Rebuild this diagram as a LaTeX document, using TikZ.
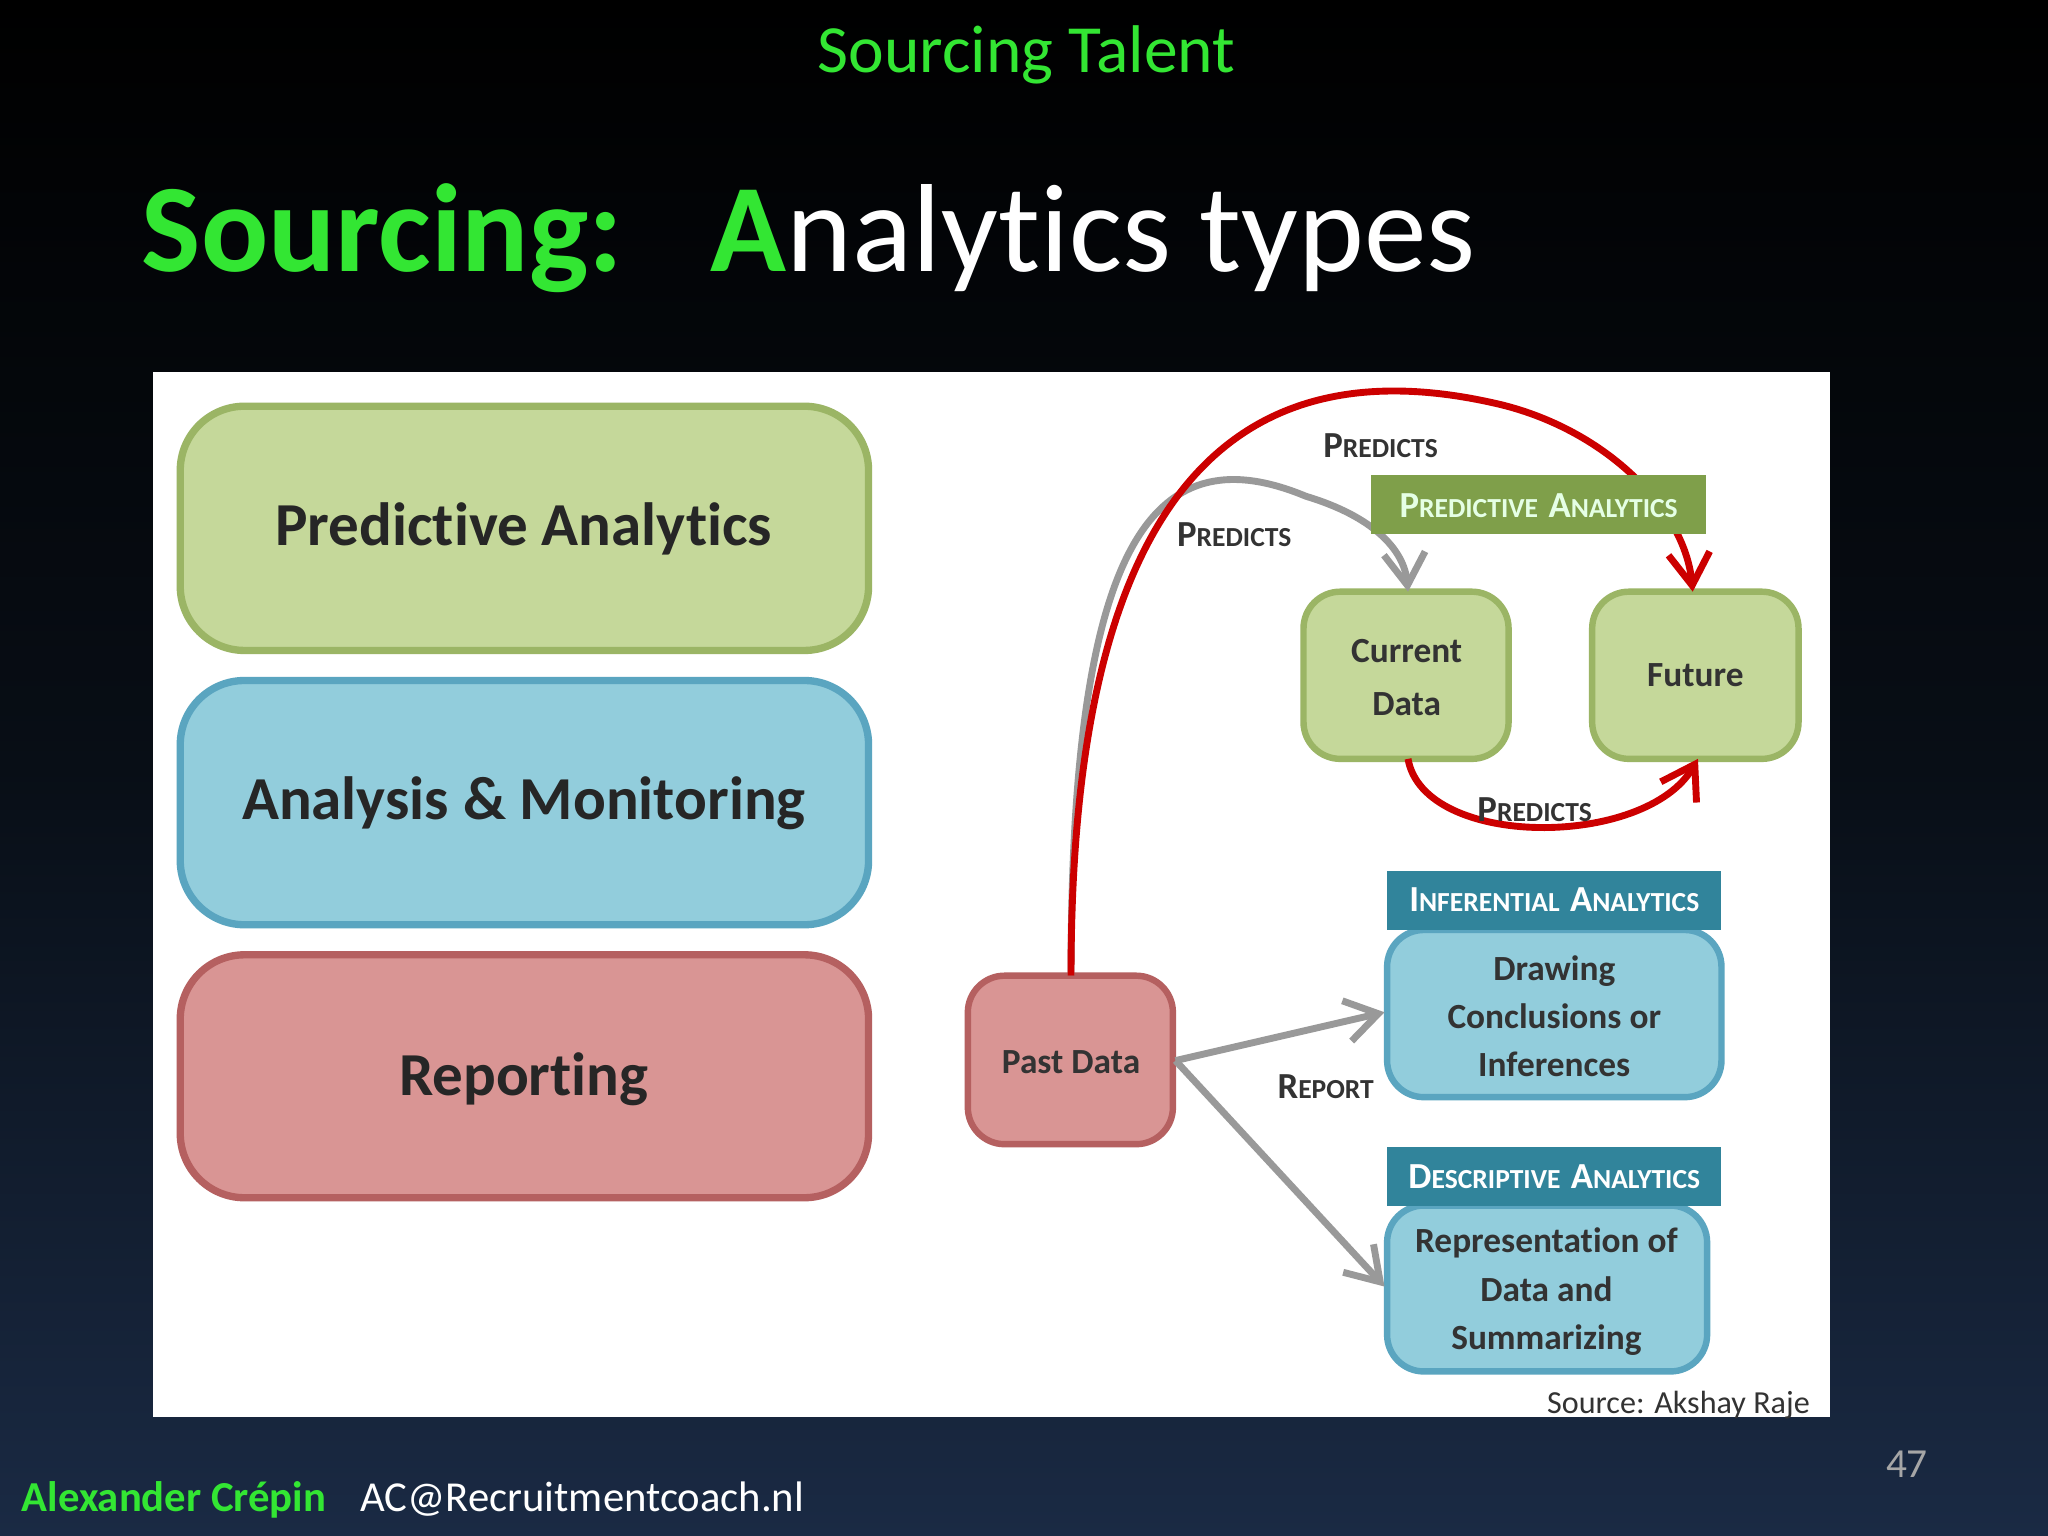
\documentclass[tikz,border=0pt]{standalone}
\usepackage{fontspec}
\setmainfont{Carlito}[Ligatures=NoCommon]
\usetikzlibrary{arrows.meta}
\definecolor{tgreen}{HTML}{33E633}
\definecolor{gfill}{HTML}{C5D89A}\definecolor{gdraw}{HTML}{9BB565}
\definecolor{bfill}{HTML}{92CDDC}\definecolor{bdraw}{HTML}{5AA5C0}
\definecolor{rfill}{HTML}{D99594}\definecolor{rdraw}{HTML}{B56060}
\definecolor{glab}{HTML}{7F9F4A}\definecolor{blab}{HTML}{31849B}
\definecolor{bgbot}{RGB}{26,42,68}\definecolor{bgmid}{RGB}{8,14,22}
\newcommand{\smc}[2]{{\fontsize{8}{9}\selectfont #1}{\fontsize{6}{7}\selectfont #2}}
\tikzset{
 bigbox/.style={draw, line width=1.6pt, rounded corners=14, inner sep=0pt},
 smbox/.style={draw, line width=1.4pt, rounded corners=8, inner sep=0pt},
 gbox/.style={fill=gfill, draw=gdraw},
 bbox/.style={fill=bfill, draw=bdraw},
 rbox/.style={fill=rfill, draw=rdraw},
 lbl/.style={font=\fontsize{7.7}{8.5}\selectfont\bfseries, text=black!80},
 darr/.style={-{Straight Barb[length=7pt,width=9pt]}, line width=1.5pt},
 bigtxt/.style={font=\fontsize{13.3}{15}\selectfont\bfseries, text=black!85},
}
\begin{document}
\begin{tikzpicture}[x=0.1mm,y=-0.1mm]
\shade[top color=black, bottom color=bgbot, middle color=bgmid] (0,0) rectangle (1568,1176);
\useasboundingbox (0,0) rectangle (1568,1176);
\node[text=tgreen, font=\fontsize{14.7}{17}\selectfont] (top) at (786,42) {Sourcing Talent};
\node[anchor=west, text=white, font=\fontsize{27.3}{31}\selectfont, inner sep=0] (title) at (108,182) {\textcolor{tgreen}{\bfseries Sourcing:}\hspace{0.7em}\textcolor{tgreen}{\bfseries A}nalytics types};
\fill[white] (117,285) rectangle (1401,1085);
\draw[bigbox,gbox] (138,311) rectangle (665,498);
\node[bigtxt] (pa) at (401,405) {Predictive Analytics};
\draw[bigbox,bbox] (138,521) rectangle (665,708);
\node[bigtxt] (am) at (401,615) {Analysis \& Monitoring};
\draw[bigbox,rbox] (138,731) rectangle (665,917);
\node[bigtxt] (rp) at (401,826) {Reporting};
\draw[smbox,gbox] (998,453) rectangle (1155,581);
\node[lbl, align=center] (cd) at (1077,519) {Current\\[3pt]Data};
\coordinate (cdT) at (1078,453); \coordinate (cdB) at (1078,581);
\draw[smbox,gbox] (1219,453) rectangle (1377,581);
\node[lbl] (fu) at (1298,517) {Future};
\coordinate (fuT) at (1296,453); \coordinate (fuB) at (1300,581);
\draw[smbox,rbox] (741,747) rectangle (898,876);
\node[lbl] (pd) at (820,813) {Past Data};
\coordinate (pdT) at (820,747); \coordinate (pdR) at (900,812);
\draw[smbox,bbox] (1062,712) rectangle (1318,840);
\node[lbl, align=center] (ib) at (1190,778) {Drawing\\[2pt]Conclusions or\\[2pt]Inferences};
\coordinate (ibL) at (1060,775);
\draw[smbox,bbox] (1062,923) rectangle (1307,1050);
\node[lbl, align=center] (db) at (1184,989) {Representation of\\[2pt]Data and\\[2pt]Summarizing};
\coordinate (dbL) at (1060,985);
\draw[darr, gray!80] (pdT) .. controls (820,420) and (880,330) .. (1000,380) .. controls (1050,395) and (1075,420) .. (cdT);
\draw[darr, red!80!black] (pdT) .. controls (820,450) and (900,250) .. (1150,310) .. controls (1230,330) and (1290,390) .. (fuT);
\draw[darr, red!80!black] (cdB) .. controls (1090,650) and (1260,650) .. (fuB);
\draw[darr, gray!80] (pdR) -- (ibL);
\draw[darr, gray!80] (pdR) -- (dbL);
\fill[glab] (1050,364) rectangle (1306,409);
\node[text=white!90!green, font=\bfseries] (pl) at (1178,387) {\smc{P}{REDICTIVE} \smc{A}{NALYTICS}};
\fill[blab] (1062,667) rectangle (1318,712);
\node[text=white, font=\bfseries] (il) at (1190,689) {\smc{I}{NFERENTIAL} \smc{A}{NALYTICS}};
\fill[blab] (1062,878) rectangle (1318,923);
\node[text=white, font=\bfseries] (dl) at (1190,901) {\smc{D}{ESCRIPTIVE} \smc{A}{NALYTICS}};
\node[font=\bfseries, text=black!80] (p1) at (1057,341) {\smc{P}{REDICTS}};
\node[font=\bfseries, text=black!80] (p2) at (945,409) {\smc{P}{REDICTS}};
\node[font=\bfseries, text=black!80] (p3) at (1175,620) {\smc{P}{REDICTS}};
\node[font=\bfseries, text=black!80] (r1) at (1015,832) {\smc{R}{EPORT}};
\node[anchor=east, font=\fontsize{7}{8}\selectfont, text=black!80] (src) at (1398,1076) {Source: Akshay Raje};
\node[text=gray!70, font=\fontsize{9}{10}\selectfont] (num) at (1460,1121) {47};
\node[anchor=west, font=\fontsize{9.3}{11}\selectfont, inner sep=0] (ft) at (16,1148) {\textcolor{tgreen}{\bfseries Alexander Crépin}\hspace{0.8em}\textcolor{white}{AC@Recruitmentcoach.nl}};
\end{tikzpicture}
\end{document}
